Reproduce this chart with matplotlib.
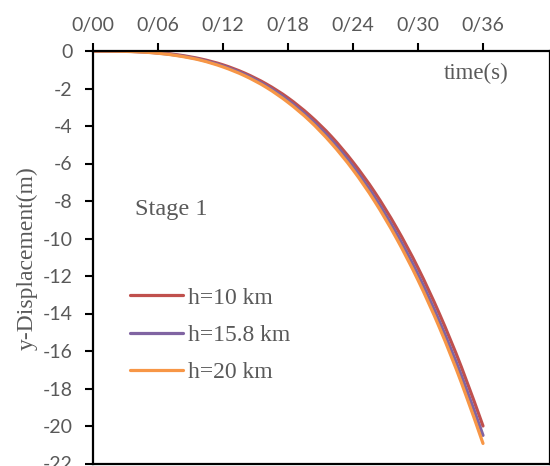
import matplotlib
matplotlib.use("Agg")
import matplotlib.pyplot as plt
from matplotlib.ticker import FixedLocator
from matplotlib.path import Path
from matplotlib.patches import PathPatch
from matplotlib.lines import Line2D

# time samples (s) and vertical displacement (m) for three source depths
time_s = [0, 2, 4, 6, 8, 10, 12, 14, 16, 18, 20, 22, 24, 26, 28, 30, 32, 34, 36]
disp_h10 = [0.00, 0.00, -0.03, -0.09, -0.22, -0.43, -0.74, -1.18, -1.76, -2.50,
            -3.43, -4.56, -5.93, -7.53, -9.41, -11.57, -14.05, -16.85, -20.00]
disp_h158 = [0.00, -0.01, -0.03, -0.11, -0.25, -0.47, -0.80, -1.25, -1.86, -2.63,
             -3.59, -4.75, -6.15, -7.80, -9.72, -11.92, -14.45, -17.30, -20.50]
disp_h20 = [0.00, -0.01, -0.04, -0.12, -0.27, -0.50, -0.85, -1.32, -1.94, -2.74,
            -3.72, -4.92, -6.34, -8.02, -9.98, -12.22, -14.78, -17.68, -20.93]

series_labels = ["h=10 km", "h=15.8 km", "h=20 km"]
series_colors = ["#C0504D", "#8064A2", "#F79646"]

x_tick_pos = [0, 6, 12, 18, 24, 30, 36]
x_tick_labels = ["0/00", "0/06", "0/12", "0/18", "0/24", "0/30", "0/36"]
y_tick_pos = [0, -2, -4, -6, -8, -10, -12, -14, -16, -18, -20, -22]

gray = "#595959"
serif = "Liberation Serif"
sans = "Lato"
LW = 2.3


def smoothed_path(xs, ys):
    """Smoothed line through the samples as cubic Bezier segments (Catmull-Rom)."""
    n = len(xs)
    verts = [(xs[0], ys[0])]
    codes = [Path.MOVETO]
    for i in range(n - 1):
        x0, y0 = (xs[i - 1], ys[i - 1]) if i > 0 else (xs[i], ys[i])
        x1, y1 = xs[i], ys[i]
        x2, y2 = xs[i + 1], ys[i + 1]
        x3, y3 = (xs[i + 2], ys[i + 2]) if i + 2 < n else (xs[i + 1], ys[i + 1])
        c1 = (x1 + (x2 - x0) / 6, y1 + (y2 - y0) / 6)
        c2 = (x2 - (x3 - x1) / 6, y2 - (y3 - y1) / 6)
        verts += [c1, c2, (x2, y2)]
        codes += [Path.CURVE4] * 3
    return Path(verts, codes)


fig = plt.figure(figsize=(5.5, 4.66), dpi=100)
ax = fig.add_axes([93 / 550, 1 - 463.5 / 466, 1 - 93 / 550, (463.5 - 51) / 466])

handles = []
for ys, lab, col in zip([disp_h10, disp_h158, disp_h20], series_labels, series_colors):
    ax.add_patch(PathPatch(smoothed_path(time_s, ys), facecolor="none",
                           edgecolor=col, lw=LW, capstyle="round", joinstyle="round"))
    handles.append(Line2D([], [], color=col, lw=LW, solid_capstyle="round", label=lab))

ax.set_xlim(0, 36 * 457 / 390)
ax.set_ylim(-22, 0)

ax.xaxis.tick_top()
ax.xaxis.set_major_locator(FixedLocator(x_tick_pos))
ax.set_xticklabels(x_tick_labels)
ax.yaxis.set_major_locator(FixedLocator(y_tick_pos))
ax.set_yticklabels([str(v) for v in y_tick_pos])

ax.tick_params(axis="x", direction="out", length=6, width=1.5, pad=6,
               labelsize=14, labelcolor=gray, top=True, bottom=False)
ax.tick_params(axis="y", direction="out", length=5.5, width=1.5, pad=9,
               labelsize=14, labelcolor=gray)
for lbl in ax.get_xticklabels() + ax.get_yticklabels():
    lbl.set_fontfamily(sans)

for side in ["left", "top", "bottom", "right"]:
    ax.spines[side].set_linewidth(1.6)
    ax.spines[side].set_color("black")

fig.text(476 / 550, 1 - 73 / 466, "time(s)",
         ha="center", va="center", fontsize=16.5, family=serif, color=gray)
fig.text(135 / 550, 1 - 209 / 466, "Stage 1",
         ha="left", va="center", fontsize=17.5, family=serif, color=gray)
fig.text(27 / 550, 1 - 258 / 466, "y-Displacement(m)", rotation=90,
         ha="center", va="center", fontsize=17, family=serif, color=gray)

leg = ax.legend(handles=handles, loc="upper left",
                bbox_to_anchor=(130 / 550, 1 - 287 / 466),
                bbox_transform=fig.transFigure, frameon=False,
                prop={"family": serif, "size": 17}, handlelength=2.25,
                handletextpad=0.21, labelspacing=0.67, borderpad=0, borderaxespad=0)
for t in leg.get_texts():
    t.set_color(gray)

fig.savefig("out.png", dpi=100)
